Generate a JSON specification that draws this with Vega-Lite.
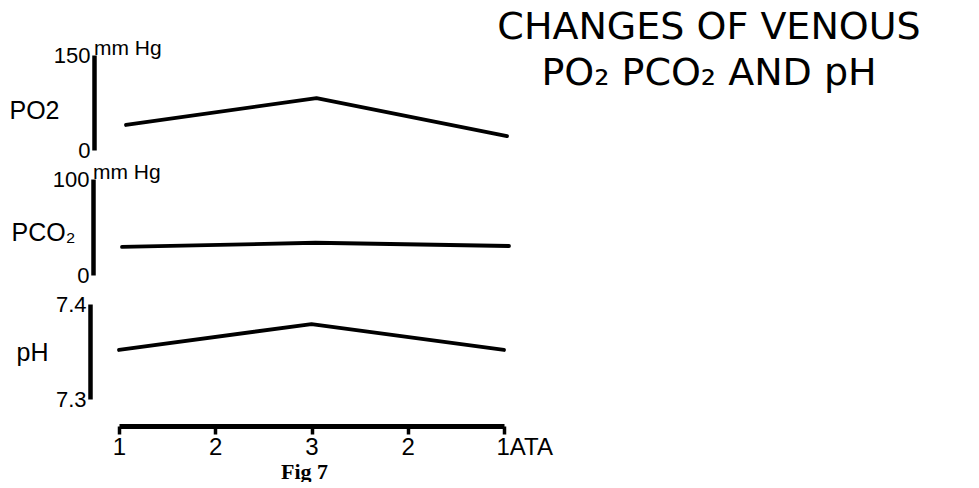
{
  "$schema": "https://vega.github.io/schema/vega-lite/v6.json",
  "background": "white",
  "padding": {"left": 9, "top": 9, "right": 5, "bottom": 0},
  "title": {
    "text": ["CHANGES OF VENOUS", "PO₂ PCO₂ AND pH"],
    "anchor": "start",
    "frame": "group",
    "align": "center",
    "dx": 590,
    "offset": -55,
    "fontSize": 38,
    "lineHeight": 46,
    "font": "DejaVu Sans",
    "fontWeight": "normal",
    "color": "black"
  },
  "data": {
    "values": [
      {"measure": "PO2", "step": 0, "value": 39.5},
      {"measure": "PO2", "step": 2, "value": 82},
      {"measure": "PO2", "step": 4, "value": 22},
      {"measure": "PCO2", "step": 0, "value": 29.2},
      {"measure": "PCO2", "step": 2, "value": 33.6},
      {"measure": "PCO2", "step": 4, "value": 30.2},
      {"measure": "pH", "step": 0, "value": 7.3516},
      {"measure": "pH", "step": 2, "value": 7.3789},
      {"measure": "pH", "step": 4, "value": 7.3516}
    ]
  },
  "spacing": 29,
  "bounds": "flush",
  "config": {
    "view": {"stroke": null},
    "axis": {
      "grid": false,
      "domainColor": "black",
      "labelColor": "black",
      "titleColor": "black",
      "tickColor": "black"
    }
  },
  "resolve": {"scale": {"x": "independent", "y": "independent"}},
  "vconcat": [
    {
      "width": 388,
      "height": 95,
      "title": {"text": "mm Hg", "anchor": "start", "frame": "group", "dx": -25, "offset": -15, "fontSize": 21, "font": "Liberation Sans", "fontWeight": "normal", "color": "black"},
      "transform": [{"filter": "datum.measure === 'PO2'"}],
      "mark": {"type": "line", "color": "black", "strokeWidth": 3.8, "strokeCap": "round", "strokeJoin": "round"},
      "encoding": {
        "x": {"field": "step", "type": "quantitative", "scale": {"domain": [-0.0735, 4.0], "nice": false, "zero": false}, "axis": null},
        "y": {
          "field": "value", "type": "quantitative",
          "scale": {"domain": [0, 150], "nice": false},
          "axis": {
            "values": [0, 150], "offset": 25, "ticks": false, "tickSize": 0, "labelPadding": 4, "domainWidth": 4.5,
            "labelFont": "Liberation Sans", "labelFontSize": 22,
            "title": "PO2", "titleAngle": 0, "titleAlign": "left", "titleBaseline": "middle", "titleX": -85, "titleY": 55,
            "titleFont": "Liberation Sans", "titleFontSize": 25, "titleFontWeight": "normal"
          }
        }
      }
    },
    {
      "width": 390,
      "height": 96,
      "title": {"text": "mm Hg", "anchor": "start", "frame": "group", "dx": -26, "offset": -15, "fontSize": 21, "font": "Liberation Sans", "fontWeight": "normal", "color": "black"},
      "transform": [{"filter": "datum.measure === 'PCO2'"}],
      "mark": {"type": "line", "color": "black", "strokeWidth": 3.8, "strokeCap": "round", "strokeJoin": "round"},
      "encoding": {
        "x": {"field": "step", "type": "quantitative", "scale": {"domain": [-0.031, 4.0], "nice": false, "zero": false}, "axis": null},
        "y": {
          "field": "value", "type": "quantitative",
          "scale": {"domain": [0, 100], "nice": false},
          "axis": {
            "values": [0, 100], "offset": 26, "ticks": false, "tickSize": 0, "labelPadding": 4, "domainWidth": 4.5,
            "labelFont": "Liberation Sans", "labelFontSize": 22,
            "title": "PCO₂", "titleAngle": 0, "titleAlign": "left", "titleBaseline": "middle", "titleX": -82, "titleY": 53,
            "titleFont": "Liberation Sans", "titleFontSize": 25, "titleFontWeight": "normal"
          }
        }
      }
    },
    {
      "width": 385,
      "height": 95,
      "transform": [{"filter": "datum.measure === 'pH'"}],
      "mark": {"type": "line", "color": "black", "strokeWidth": 3.8, "strokeCap": "round", "strokeJoin": "round"},
      "encoding": {
        "x": {
          "field": "step", "type": "quantitative",
          "scale": {"domain": [0, 4], "nice": false, "zero": false},
          "axis": {
            "values": [0, 1, 2, 3, 4],
            "labelExpr": "['1','2','3','2','1ATA'][datum.value]",
            "offset": 27, "domainWidth": 5, "tickSize": 8, "tickWidth": 3.5, "labelPadding": 1, "labelFlush": false,
            "labelFont": "Liberation Sans", "labelFontSize": 24,
            "labelAlign": {"condition": {"test": "datum.value == 4", "value": "left"}, "value": "center"},
            "labelOffset": {"condition": {"test": "datum.value == 4", "value": -8}, "value": 0},
            "title": "Fig 7", "titleFont": "Liberation Serif", "titleFontWeight": "bold", "titleFontSize": 22, "titlePadding": 2, "titleX": 185
          }
        },
        "y": {
          "field": "value", "type": "quantitative",
          "scale": {"domain": [7.3, 7.4], "nice": false, "zero": false},
          "axis": {
            "values": [7.3, 7.4], "format": ".1f", "offset": 29, "ticks": false, "tickSize": 0, "labelPadding": 4, "domainWidth": 4.5,
            "labelFont": "Liberation Sans", "labelFontSize": 22,
            "title": "pH", "titleAngle": 0, "titleAlign": "left", "titleBaseline": "middle", "titleX": -74, "titleY": 48,
            "titleFont": "Liberation Sans", "titleFontSize": 25, "titleFontWeight": "normal"
          }
        }
      }
    }
  ]
}
